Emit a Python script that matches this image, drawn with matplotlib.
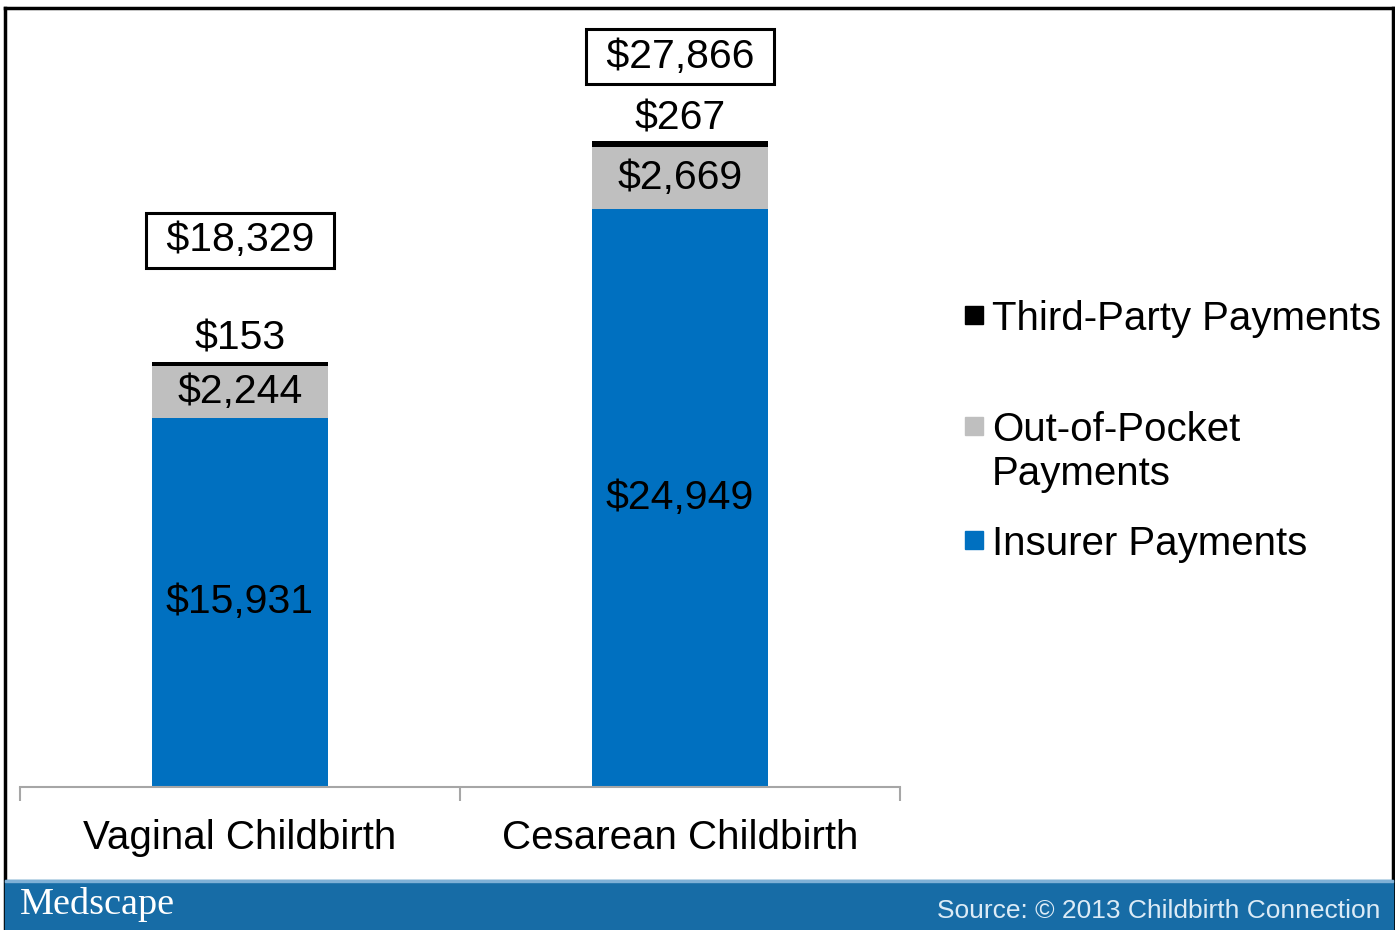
import matplotlib.pyplot as plt
from matplotlib.patches import Rectangle

# data
categories = ["Vaginal Childbirth", "Cesarean Childbirth"]
insurer = [15931, 24949]
out_of_pocket = [2244, 2669]
third_party = [153, 267]
totals = [18329, 27866]
series_names = ["Third-Party Payments", "Out-of-Pocket\nPayments", "Insurer Payments"]
series_colors = ["#000000", "#bfbfbf", "#0070c0"]

W, H = 1395, 930
plt.rcParams['font.family'] = ['Liberation Sans', 'DejaVu Sans']

fig = plt.figure(figsize=(W / 100, H / 100), dpi=100)
fig.patch.set_facecolor("white")

# axes placed to match the pixel layout (baseline ~787px, x from 20 to 900)
ax = fig.add_axes([20 / W, 1 - 787 / H, 880 / W, (787 - 8) / H])
ax.set_xlim(-0.5, 1.5)
ax.set_ylim(0, 27866 * (787 - 8) / (787 - 141))

x = range(len(categories))
bw = 0.4
ax.bar(x, insurer, width=bw, color=series_colors[2], zorder=2)
ax.bar(x, out_of_pocket, width=bw, bottom=insurer, color=series_colors[1], zorder=2)
bottoms = [a + b for a, b in zip(insurer, out_of_pocket)]
ax.bar(x, third_party, width=bw, bottom=bottoms, color=series_colors[0], zorder=2)

fs = 29.5
total_offsets = [122, 84]  # pixel gap between bar top and the boxed total
third_offsets = [24, 22]
for i in x:
    ax.text(i, insurer[i] / 2, f"${insurer[i]:,}", ha="center", va="center", fontsize=fs)
    ax.text(i, insurer[i] + out_of_pocket[i] / 2, f"${out_of_pocket[i]:,}",
            ha="center", va="center", fontsize=fs)
    top = bottoms[i] + third_party[i]
    ax.annotate(f"${third_party[i]:,}", (i, top), xytext=(0, third_offsets[i]),
                textcoords="offset pixels", ha="center", va="center", fontsize=fs)
    ax.annotate(f" ${totals[i]:,} ", (i, top), xytext=(0, total_offsets[i]),
                textcoords="offset pixels", ha="center", va="center", fontsize=fs,
                bbox=dict(boxstyle="square,pad=0.21", fc="white", ec="black", lw=2.2))

# axis styling
for s in ["top", "right", "left"]:
    ax.spines[s].set_visible(False)
ax.spines["bottom"].set_color("#a6a6a6")
ax.spines["bottom"].set_linewidth(1.5)
ax.set_yticks([])
ax.set_xticks([-0.5, 0.5, 1.5])
ax.set_xticklabels([])
ax.tick_params(axis="x", direction="out", length=10, color="#a6a6a6", width=1.5)
for i, c in enumerate(categories):
    ax.text(i, -0.066, c, transform=ax.get_xaxis_transform(), ha="center", va="center",
            fontsize=29)
ax.patch.set_alpha(0)

# legend, drawn by hand to follow the uneven spacing of the original
leg_base = [330, 441, 555]
for name, col, yy in zip(series_names, series_colors, leg_base):
    fig.patches.append(Rectangle((965 / W, 1 - (yy - 6) / H), 18 / W, 18 / H,
                                 transform=fig.transFigure, color=col))
    fig.text(992 / W, 1 - (yy - 30) / H, name, ha="left", va="top", fontsize=29,
             linespacing=1.2)

# footer band
fig.patches.append(Rectangle((5 / W, 0), (1393 - 5) / W, (H - 880) / H,
                             transform=fig.transFigure, color="#176ca6", zorder=5))
fig.patches.append(Rectangle((5 / W, (H - 882) / H), (1393 - 5) / W, 2 / H,
                             transform=fig.transFigure, color="#7fb0d6", zorder=6))
fig.text(20 / W, 1 - 904 / H, "Medscape", family="Liberation Serif", fontsize=27.5,
         color="white", ha="left", va="center", zorder=7)
fig.text(1380 / W, 1 - 911 / H, "Source: \u00a9 2013 Childbirth Connection", fontsize=19,
         color="#dcebf6", ha="right", va="center", zorder=7)

# outer frame
fig.add_artist(plt.Line2D([5 / W, 5 / W], [0, 1 - 8 / H], color="black", lw=2.5,
                          transform=fig.transFigure))
fig.add_artist(plt.Line2D([5 / W, 1393 / W], [1 - 8 / H, 1 - 8 / H], color="black", lw=2.5,
                          transform=fig.transFigure))
fig.add_artist(plt.Line2D([1393 / W, 1393 / W], [0, 1 - 8 / H], color="black", lw=2.5,
                          transform=fig.transFigure))

fig.savefig("out.png", dpi=100)
